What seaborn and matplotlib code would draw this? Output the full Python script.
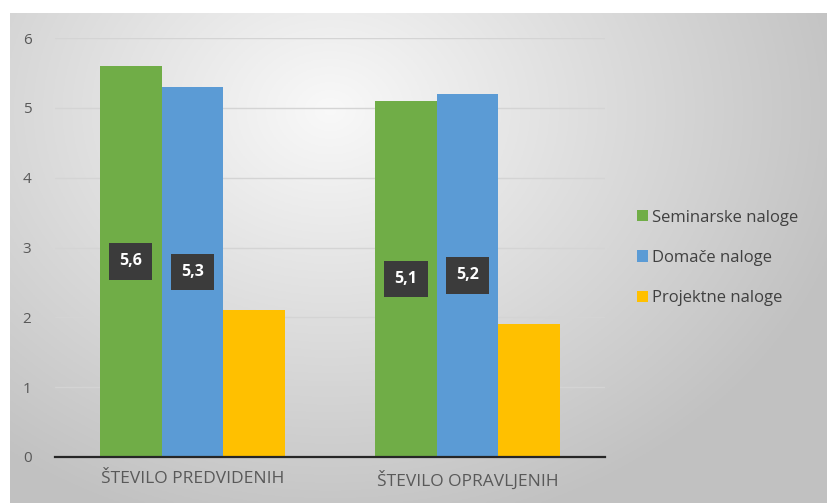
import numpy as np
import pandas as pd
import matplotlib
matplotlib.use("Agg")
import matplotlib.pyplot as plt
import seaborn as sns

categories = ["ŠTEVILO PREDVIDENIH", "ŠTEVILO OPRAVLJENIH"]
series = ["Seminarske naloge", "Domače naloge", "Projektne naloge"]
seminarske = [5.6, 5.1]
domace = [5.3, 5.2]
projektne = [2.1, 1.9]
label_series = ["Seminarske naloge", "Domače naloge"]
colors = ["#70ad47", "#5b9bd5", "#ffc000"]
yticks = [0, 1, 2, 3, 4, 5, 6]

rows = []
for name, vals in zip(series, [seminarske, domace, projektne]):
    for c, v in zip(categories, vals):
        rows.append({"cat": c, "serie": name, "val": v})
df = pd.DataFrame(rows)

sns.set_theme(style="white")
plt.rcParams["font.family"] = ["Open Sans", "DejaVu Sans"]

W, H = 828, 503
fig = plt.figure(figsize=(W / 100, H / 100), dpi=100)
fig.patch.set_facecolor("white")

# background gradient panel
bg = fig.add_axes([10 / W, 0, (W - 10) / W, (H - 13) / H], zorder=0)
nx, ny = 400, 250
xx, yy = np.meshgrid(np.linspace(10, W, nx), np.linspace(13, H, ny))
r = np.sqrt(((xx - 330) / 520) ** 2 + ((yy - 110) / 420) ** 2)
v = np.clip(0.975 - 0.21 * r, 0.76, 1)
img = np.dstack([v, v, v])
bg.imshow(img, aspect="auto", extent=[0, 1, 0, 1], origin="upper")
bg.axis("off")

ax = fig.add_axes([55 / W, 1 - 457 / H, (605 - 55) / W, (457 - 38) / H], zorder=1)
ax.set_facecolor("none")

sns.barplot(data=df, x="cat", y="val", hue="serie", hue_order=series,
            order=categories, palette=colors, width=0.675, gap=0,
            saturation=1, ax=ax, zorder=2, legend=True, linewidth=0,
            edgecolor="none")

ax.set_xlim(-0.5, 1.5)
ax.set_ylim(0, 6)
ax.set_yticks(yticks)
ax.set_yticklabels([str(t) for t in yticks], color="#595959", fontsize=11)
ax.tick_params(axis="y", length=0, pad=17)
ax.grid(axis="y", color="#d4d4d4", linewidth=1, zorder=0)
ax.set_axisbelow(True)
for s in ["top", "right", "left"]:
    ax.spines[s].set_visible(False)
ax.spines["bottom"].set_color("#262626")
ax.spines["bottom"].set_linewidth(1.6)
ax.set_xlabel("")
ax.set_ylabel("")
ax.set_xticks([0, 1])
ax.set_xticklabels(categories, color="#595959", fontsize=12.5)
ax.tick_params(axis="x", length=0, pad=10)
ax.set_xticks([-0.5, 0.5, 1.5], minor=True)
ax.tick_params(axis="x", which="minor", length=3, width=1.6, color="#262626", direction="out")

# data labels for first two series
for cont, name in zip(ax.containers, series):
    if name not in label_series:
        continue
    for p in cont.patches:
        h = p.get_height()
        ax.text(p.get_x() + p.get_width() / 2, h / 2, f"{h:.1f}".replace(".", ","),
                ha="center", va="center", color="white", fontsize=11.5,
                fontweight="bold", zorder=5,
                bbox=dict(boxstyle="square,pad=0.65", facecolor="#3b3b3b",
                          edgecolor="none"))

leg = ax.legend(loc="upper left", bbox_to_anchor=(630 / W, 1 - 203 / H),
                bbox_transform=fig.transFigure, frameon=False, fontsize=12,
                handlelength=0.65, handleheight=0.65, handletextpad=0.25,
                labelspacing=1.45, borderaxespad=0)
for t in leg.get_texts():
    t.set_color("#404040")

fig.savefig("out.png", dpi=100)
